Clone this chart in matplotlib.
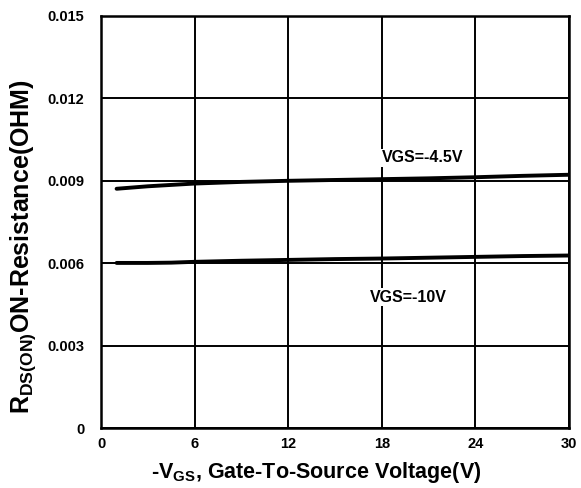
import numpy as np
import matplotlib.pyplot as plt

plt.rcParams['font.family'] = 'Liberation Sans'
plt.rcParams['font.weight'] = 'bold'
plt.rcParams['mathtext.fontset'] = 'custom'
plt.rcParams['mathtext.rm'] = 'Liberation Sans:bold'
plt.rcParams['mathtext.bf'] = 'Liberation Sans:bold'

# -VGS (V) vs RDS(ON) (ohm)
vgs_45 = [1, 3, 6, 9, 12, 15, 18, 21, 24, 27, 30]
rds_45 = [0.00871, 0.00880, 0.00890, 0.00896, 0.00900, 0.00903, 0.00906, 0.00909, 0.00913, 0.00918, 0.00922]
vgs_10 = [1, 3, 4.5, 6, 9, 12, 15, 18, 21, 24, 27, 30]
rds_10 = [0.00601, 0.00601, 0.00602, 0.00605, 0.00609, 0.00612, 0.00615, 0.00617, 0.00620, 0.00623, 0.00626, 0.00628]

xticks = [0, 6, 12, 18, 24, 30]
yticks = [0, 0.003, 0.006, 0.009, 0.012, 0.015]
ytick_labels = ['0', '0.003', '0.006', '0.009', '0.012', '0.015']

fig = plt.figure(figsize=(5.81, 4.88), dpi=100)
ax = fig.add_axes([101 / 581, 60 / 488, 468 / 581, 412 / 488])

ax.plot(vgs_45, rds_45, color='black', lw=2.8, solid_capstyle='round', zorder=3)
ax.plot(vgs_10, rds_10, color='black', lw=2.8, solid_capstyle='round', zorder=3)

ax.set_xlim(0, 30)
ax.set_ylim(0, 0.015)
ax.set_xticks(xticks)
ax.set_yticks(yticks)
ax.set_yticklabels(ytick_labels)
ax.tick_params(length=0, labelsize=10.5)
ax.tick_params(axis='y', pad=12)
ax.tick_params(axis='x', pad=6.5)
ax.grid(True, color='black', lw=1.4)
ax.set_axisbelow(True)
for s in ax.spines.values():
    s.set_linewidth(1.8)

ax.text(20.6, 0.00984, 'VGS=-4.5V', ha='center', va='center', fontsize=11.5,
        fontweight='bold', zorder=4,
        bbox=dict(facecolor='white', edgecolor='none', pad=1))
ax.text(19.7, 0.00476, 'VGS=-10V', ha='center', va='center', fontsize=11.5,
        fontweight='bold', zorder=4,
        bbox=dict(facecolor='white', edgecolor='none', pad=1))

ax.set_xlabel(r'-V$_{\mathrm{GS}}$, Gate-To-Source Voltage(V)', fontsize=15.5,
              fontweight='bold', va='center')
ax.xaxis.set_label_coords(0.46, -0.109)
ax.set_ylabel(r'R$_{\mathrm{DS(ON)}}$ON-Resistance(OHM)', fontsize=18,
              fontweight='bold', va='center')
ax.yaxis.set_label_coords(-0.166, 0.44)

fig.savefig('out.png', dpi=100)
